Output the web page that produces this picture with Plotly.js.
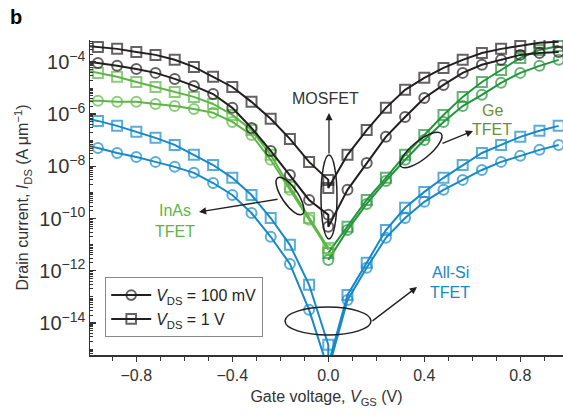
<!DOCTYPE html>
<html>
<head>
<meta charset="utf-8">
<script src="https://cdn.plot.ly/plotly-3.0.1.min.js"></script>
<style>
  html, body { margin: 0; padding: 0; background: #fff; }
  #chart { width: 563px; height: 418px; }
</style>
</head>
<body>
<div id="chart"></div>
<script>
// Gate-voltage sweep points (V). 0 V appears twice: end of the left branch and start of the right one.
const vgsFull  = [-1.0, -0.96, -0.88, -0.80, -0.72, -0.64, -0.56, -0.48, -0.40, -0.32, -0.24, -0.16, -0.08, 0, 0,
                  0.08, 0.16, 0.24, 0.32, 0.40, 0.48, 0.56, 0.64, 0.72, 0.80, 0.88, 0.96];
const vgsLeft  = [-1.0, -0.96, -0.88, -0.80, -0.72, -0.64, -0.56, -0.48, -0.40, -0.32, -0.24, -0.16, -0.08, 0];
const vgsRight = [0, 0.08, 0.16, 0.24, 0.32, 0.40, 0.48, 0.56, 0.64, 0.72, 0.80, 0.88, 0.96];

// Drain current, stored as log10(I_DS / (A um^-1))
const mosfet1V   = [-3.39, -3.43, -3.50, -3.62, -3.73, -3.92, -4.19, -4.57, -4.96, -5.53, -6.18, -6.95, -7.83, -8.52, -8.83,
                    -7.56, -6.61, -5.76, -5.07, -4.61, -4.23, -3.92, -3.66, -3.50, -3.39, -3.27, -3.23];
const mosfet100m = [-4.00, -4.04, -4.15, -4.27, -4.42, -4.65, -4.92, -5.23, -5.76, -6.53, -7.41, -8.33, -9.29, -9.86, -10.32,
                    -8.90, -7.87, -6.87, -6.11, -5.38, -4.88, -4.42, -4.11, -3.92, -3.73, -3.66, -3.62];
const inas1V     = [-4.34, -4.42, -4.57, -4.77, -4.96, -5.15, -5.34, -5.61, -6.03, -6.61, -7.56, -8.79, -9.98, -11.13];
const inas100m   = [-5.49, -5.49, -5.53, -5.53, -5.61, -5.69, -5.80, -5.95, -6.30, -6.80, -7.75, -8.90, -10.05, -11.20];
const ge1V       = [-11.32, -10.32, -9.29, -8.44, -7.56, -6.80, -6.03, -5.34, -4.77, -4.31, -3.85, -3.54, -3.39];
const ge100m     = [-11.59, -10.44, -9.44, -8.56, -7.75, -6.99, -6.30, -5.69, -5.26, -4.80, -4.42, -4.15, -3.92];
const allSi1V    = [-6.18, -6.26, -6.45, -6.68, -6.91, -7.18, -7.56, -7.95, -8.44, -9.10, -9.98, -11.01, -12.54, -14.84, -15.60,
                    -12.93, -11.70, -10.44, -9.59, -8.98, -8.44, -7.95, -7.49, -7.18, -6.87, -6.64, -6.45];
const allSi100m  = [-7.22, -7.30, -7.49, -7.64, -7.83, -8.02, -8.25, -8.64, -9.10, -9.79, -10.70, -11.74, -13.50, -15.80, -15.80,
                    -13.12, -11.89, -10.74, -9.98, -9.36, -8.90, -8.52, -8.14, -7.83, -7.60, -7.37, -7.18];

const legendNames = ['<i>V</i><sub>DS</sub> = 100 mV', '<i>V</i><sub>DS</sub> = 1 V'];

const C_MOS  = '#231f20';
const C_INAS = '#5cb646';
const C_GE   = '#23943a';
const C_SI   = '#1589c9';
const FONT   = 'Liberation Sans, Arial, sans-serif';

function curve(x, logI, color, symbol, name, showLegend) {
  return {
    type: 'scatter', mode: 'lines+markers',
    x: x, y: logI.map(v => Math.pow(10, v)),
    name: name, showlegend: !!showLegend, cliponaxis: true,
    line: { color: color, width: 2 },
    marker: {
      symbol: symbol, color: color,
      size: x.map(v => (v === -1.0 ? 0 : 10)),
      line: { color: color, width: 2 }
    },
    hoverinfo: 'skip'
  };
}

const traces = [
  curve(vgsFull,  allSi100m,  C_SI,   'circle-open'),
  curve(vgsFull,  allSi1V,    C_SI,   'square-open'),
  curve(vgsRight, ge100m,     C_GE,   'circle-open'),
  curve(vgsRight, ge1V,       C_GE,   'square-open'),
  curve(vgsLeft,  inas100m,   C_INAS, 'circle-open'),
  curve(vgsLeft,  inas1V,     C_INAS, 'square-open'),
  curve(vgsFull,  mosfet100m, C_MOS,  'circle-open', legendNames[0], true),
  curve(vgsFull,  mosfet1V,   C_MOS,  'square-open', legendNames[1], true)
];

// Plot-area box in pixels, used to place the outline ellipses and call-outs
const M = { l: 90, t: 40, w: 473, h: 315 };
const px = x => (x - M.l) / M.w;
const py = y => (M.t + M.h - y) / M.h;

// Ellipse (optionally rotated) as a closed Bezier path in paper coordinates
function ellipsePath(cx, cy, a, b, deg) {
  const t = deg * Math.PI / 180, k = 0.5523;
  const u = [a * Math.cos(t), a * Math.sin(t)];
  const v = [-b * Math.sin(t), b * Math.cos(t)];
  const P = (s1, s2) => [cx + s1 * u[0] + s2 * v[0], cy + s1 * u[1] + s2 * v[1]];
  const f = p => px(p[0]).toFixed(5) + ',' + py(p[1]).toFixed(5);
  const pts = [[1, 0], [0, 1], [-1, 0], [0, -1], [1, 0]];
  let d = 'M' + f(P(1, 0));
  for (let i = 0; i < 4; i++) {
    const [a1, b1] = pts[i], [a2, b2] = pts[i + 1];
    d += ' C' + f(P(a1 + k * a2, b1 + k * b2)) + ' ' + f(P(a2 + k * a1, b2 + k * b1)) + ' ' + f(P(a2, b2));
  }
  return d + ' Z';
}

const ringStyle = { type: 'path', xref: 'paper', yref: 'paper', line: { color: '#231f20', width: 1.5 }, layer: 'above' };
const shapes = [
  Object.assign({ path: ellipsePath(329, 197, 8, 42, 0) }, ringStyle),
  Object.assign({ path: ellipsePath(290, 196, 22, 8, 56) }, ringStyle),
  Object.assign({ path: ellipsePath(421, 150, 26, 9, -39) }, ringStyle),
  Object.assign({ path: ellipsePath(328, 321, 43, 14, 0) }, ringStyle)
];

function arrow(hx, hy, tx, ty) {
  return {
    xref: 'paper', yref: 'paper', x: px(hx), y: py(hy), text: '',
    showarrow: true, arrowhead: 2, arrowsize: 1.1, arrowwidth: 1.3, arrowcolor: '#231f20',
    ax: tx - hx, ay: ty - hy
  };
}
function label(text, x, y, color, size, bold) {
  return {
    xref: 'paper', yref: 'paper', x: px(x), y: py(y), xanchor: 'center', yanchor: 'middle',
    text: bold ? '<b>' + text + '</b>' : text, showarrow: false,
    font: { family: FONT, size: size || 16, color: color }
  };
}

const annotations = [
  arrow(329, 113, 329, 155),
  arrow(199, 212, 279, 199),
  arrow(473, 131, 441, 144),
  arrow(417, 287, 371, 322),
  label('MOSFET', 325, 98, '#333333'),
  label('InAs', 175, 210, C_INAS),
  label('TFET', 175, 231, C_INAS),
  label('Ge', 492, 110, '#6a8f3c'),
  label('TFET', 492, 129, '#6a8f3c'),
  label('All-Si', 450, 272, C_SI),
  label('TFET', 450, 292, C_SI),
  { xref: 'paper', yref: 'paper', x: px(8), y: py(17), xanchor: 'left', yanchor: 'middle',
    text: '<b>b</b>', showarrow: false, font: { family: FONT, size: 20, color: '#000' } }
];

const layout = {
  width: 563, height: 418,
  margin: { l: 90, r: 0, t: 40, b: 63 },
  paper_bgcolor: '#fff', plot_bgcolor: '#fff',
  font: { family: FONT, size: 16, color: '#333333' },
  showlegend: true,
  legend: {
    x: px(105), y: py(277), xanchor: 'left', yanchor: 'top',
    bgcolor: '#fff', bordercolor: '#8a8a8a', borderwidth: 1.2,
    font: { family: FONT, size: 16, color: '#231f20' },
    itemwidth: 40
  },
  xaxis: {
    range: [-0.993, 0.978], showgrid: false, zeroline: false,
    showline: true, linecolor: '#333', linewidth: 1.5,
    ticks: 'outside', ticklen: 5, tickwidth: 1.3, tickcolor: '#333',
    tick0: 0, dtick: 0.4, tickformat: '.1f',
    minor: { dtick: 0.1, ticks: 'outside', ticklen: 4, tickwidth: 1.2, tickcolor: '#333' },
    tickfont: { family: FONT, size: 16, color: '#333' },
    title: { text: 'Gate voltage, <i>V</i><sub>GS</sub> (V)', standoff: 8,
             font: { family: FONT, size: 16, color: '#333' } }
  },
  yaxis: {
    type: 'log', range: [-15.23, -3.16], showgrid: false, zeroline: false,
    showline: true, linecolor: '#333', linewidth: 1.5,
    ticks: 'inside', ticklen: 6, tickwidth: 1.3, tickcolor: '#333',
    dtick: 2, exponentformat: 'power',
    minor: { dtick: 'D1', ticks: 'inside', ticklen: 3, tickwidth: 1, tickcolor: '#333' },
    tickfont: { family: FONT, size: 16, color: '#333' },
    title: { text: 'Drain current, <i>I</i><sub>DS</sub> (A \u03bcm<sup>\u22121</sup>)', standoff: 6,
             font: { family: FONT, size: 16, color: '#333' } }
  },
  shapes: shapes,
  annotations: annotations
};

Plotly.newPlot('chart', traces, layout, { displayModeBar: false, staticPlot: true });
</script>
</body>
</html>
